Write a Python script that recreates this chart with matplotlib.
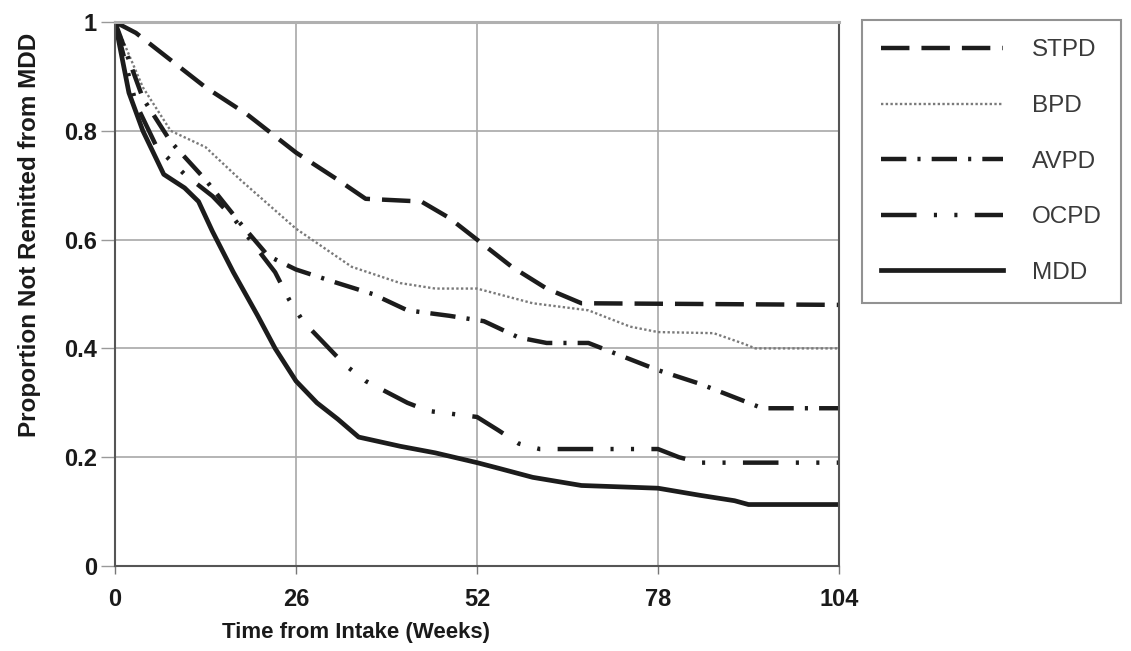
import matplotlib
matplotlib.use("Agg")
import matplotlib.pyplot as plt

plt.rcParams['font.family'] = ['Liberation Sans', 'DejaVu Sans']

# weeks / proportion
stpd_x = [0, 3, 8, 13, 19, 26, 32, 36, 44, 48, 52, 57, 62, 67, 104]
stpd_y = [1.0, 0.98, 0.93, 0.88, 0.83, 0.76, 0.71, 0.675, 0.67, 0.64, 0.60, 0.55, 0.51, 0.483, 0.48]

bpd_x = [0, 4, 8, 13, 18, 26, 34, 41, 46, 52, 60, 68, 74, 78, 86, 90, 92, 104]
bpd_y = [1.0, 0.88, 0.80, 0.77, 0.71, 0.62, 0.55, 0.52, 0.51, 0.51, 0.483, 0.47, 0.44, 0.43, 0.428, 0.41, 0.40, 0.40]

avpd_x = [0, 4, 8, 13, 18, 22, 26, 32, 37, 42, 48, 53, 58, 62, 68, 72, 78, 84, 90, 93, 104]
avpd_y = [1.0, 0.86, 0.78, 0.71, 0.63, 0.57, 0.545, 0.52, 0.50, 0.47, 0.46, 0.45, 0.42, 0.41, 0.41, 0.39, 0.36, 0.335, 0.305, 0.29, 0.29]

ocpd_x = [0, 3, 6, 10, 14, 17, 20, 23, 25, 27, 30, 33, 36, 39, 42, 45, 52, 55, 58, 61, 78, 81, 84, 104]
ocpd_y = [1.0, 0.85, 0.77, 0.72, 0.68, 0.64, 0.59, 0.54, 0.49, 0.45, 0.41, 0.37, 0.34, 0.32, 0.30, 0.285, 0.274, 0.25, 0.225, 0.215, 0.215, 0.20, 0.19, 0.19]

mdd_x = [0, 2, 4, 7, 10, 12, 14, 17, 20.5, 23, 26, 29, 32, 35, 41, 46, 52, 55, 60, 67, 78, 84, 89, 91, 104]
mdd_y = [1.0, 0.87, 0.80, 0.72, 0.695, 0.67, 0.615, 0.54, 0.46, 0.40, 0.34, 0.30, 0.27, 0.237, 0.22, 0.208, 0.19, 0.18, 0.163, 0.148, 0.143, 0.13, 0.12, 0.113, 0.113]

xticks = [0, 26, 52, 78, 104]
yticks = [0, 0.2, 0.4, 0.6, 0.8, 1]
ytick_labels = ['0', '0.2', '0.4', '0.6', '0.8', '1']

fig = plt.figure(figsize=(11.31, 6.51), dpi=100)
ax = fig.add_axes([115 / 1131, 85 / 651, 724 / 1131, 544 / 651])

ink = '#1c1c1c'
ax.plot(stpd_x, stpd_y, color=ink, lw=3.2, linestyle=(0, (6.4, 2.7)), label='STPD')
ax.plot(bpd_x, bpd_y, color='#7a7a7a', lw=1.7, linestyle=(0, (1, 1)), label='BPD')
ax.plot(avpd_x, avpd_y, color=ink, lw=3.2, linestyle=(0, (5.7, 2.5, 0.7, 2.5)), label='AVPD')
ax.plot(ocpd_x, ocpd_y, color=ink, lw=3.2, linestyle=(0, (8, 3.9, 0.7, 3.9, 0.7, 3.9)), label='OCPD')
ax.plot(mdd_x, mdd_y, color=ink, lw=3.4, label='MDD')

ax.set_xlim(0, 104)
ax.set_ylim(0, 1)
ax.set_xticks(xticks)
ax.set_yticks(yticks)
ax.set_yticklabels(ytick_labels)
ax.grid(True, color='#a8a8a8', lw=1.2)
ax.set_axisbelow(True)

for side in ['left', 'bottom', 'right']:
    ax.spines[side].set_color('#555555')
    ax.spines[side].set_linewidth(1.5)
ax.spines['top'].set_color('#b0b0b0')
ax.spines['top'].set_linewidth(2.2)

ax.tick_params(axis='x', direction='out', length=6, width=1, color='#777777', pad=10,
               labelsize=17, labelcolor='#1a1a1a')
ax.tick_params(axis='y', direction='out', length=10, width=1, color='#999999', pad=3,
               labelsize=17, labelcolor='#1a1a1a')
for t in ax.get_xticklabels() + ax.get_yticklabels():
    t.set_fontweight('bold')

ax.set_xlabel('Time from Intake (Weeks)', fontsize=16, fontweight='bold', color='#1a1a1a',
              va='center')
ax.set_ylabel('Proportion Not Remitted from MDD', fontsize=17.5, fontweight='bold', color='#1a1a1a')
ax.xaxis.set_label_coords(0.333, -0.122)
ax.yaxis.set_label_coords(-0.102, 0.608)

leg = ax.legend(loc='upper left', bbox_to_anchor=(862 / 1131, 1 - 20 / 651),
                bbox_transform=fig.transFigure, fontsize=17.5, frameon=True, fancybox=False,
                handlelength=5.0, handletextpad=1.2, labelspacing=1.38, borderpad=0.8,
                borderaxespad=0)
leg.get_frame().set_edgecolor('#777777')
leg.get_frame().set_linewidth(1.5)
for t in leg.get_texts():
    t.set_color('#3a3a3a')

fig.savefig('out.png', dpi=100)
